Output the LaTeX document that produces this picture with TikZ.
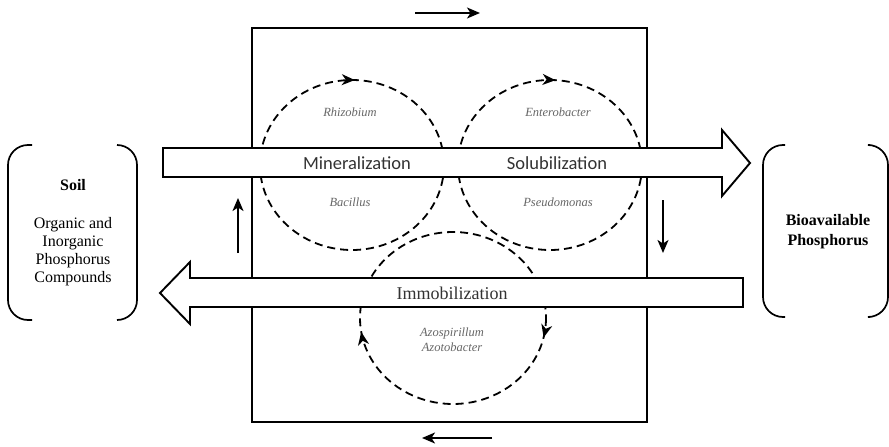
\documentclass[tikz,border=0pt]{standalone}
\usepackage{fontspec}
\setmainfont{Liberation Serif}
\newfontfamily\procfont{Carlito}
\usetikzlibrary{arrows.meta,decorations.markings}

\tikzset{
  ring/.style 2 args={line width=1.8pt,dash pattern=on 8pt off 5pt,
    postaction={decorate,decoration={markings,
      mark=at position #1 with {\arrow{Stealth[length=13pt,width=11pt,inset=4pt]}},
      mark=at position #2 with {\arrow{Stealth[length=13pt,width=11pt,inset=4pt]}}}}},
  bigarrow/.style={draw,line width=1.9pt,fill=white,line join=miter},
  sidearrow/.style={line width=1.8pt,-{Stealth[length=13pt,width=11pt,inset=3.5pt]}},
  bracket/.style={line width=1.7pt,rounded corners=20pt}
}

\begin{document}
\begin{tikzpicture}[x=1pt,y=-1pt]
  \useasboundingbox (0,0) rectangle (889,447);

  \draw[line width=1.9pt] (252,28) rectangle (647,422);

  \draw[ring={0.755}{0.26}] (352,165) ellipse [x radius=92, y radius=85];
  \draw[ring={0.76}{0.235}] (550,165) ellipse [x radius=92, y radius=85];
  \draw[ring={0.035}{0.475}] (453,318) ellipse [x radius=93, y radius=86];

  \draw[bigarrow] (163,148) -- (722,148) -- (722,130) -- (750,163)
    -- (722,196) -- (722,177) -- (163,177) -- cycle;
  \draw[bigarrow] (743,278) -- (190,278) -- (190,262) -- (160,293)
    -- (190,324) -- (190,307) -- (743,307) -- cycle;

  \begin{scope}[every node/.style={font=\procfont\fontsize{18.5}{20}\selectfont,text=black!80}]
    \node (mineral) at (357,163) {Mineralization};
    \node (solub)   at (557,163) {Solubilization};
  \end{scope}
  \node[font=\rmfamily\fontsize{18}{20}\selectfont,text=black!80] (immob) at (452,293) {Immobilization};

  \begin{scope}[every node/.style={font=\rmfamily\itshape\fontsize{12.5}{15}\selectfont,text=black!60}]
    \node (rhizo)  at (350,112) {Rhizobium};
    \node (bacil)  at (350,202) {Bacillus};
    \node (entero) at (558,112) {Enterobacter};
    \node (pseudo) at (558,202) {Pseudomonas};
    \node[align=center] (azo) at (452,340) {Azospirillum\\Azotobacter};
  \end{scope}

  \begin{scope}[every node/.style={align=center,font=\rmfamily\fontsize{16}{18}\selectfont}]
    \node[font=\rmfamily\bfseries\fontsize{16}{18}\selectfont] (soil) at (73,185) {Soil};
    \node (compounds) at (73,252) {Organic and\\Inorganic\\Phosphorus\\Compounds};
    \node[font=\rmfamily\bfseries\fontsize{16}{20}\selectfont] (bioavail) at (828,232) {Bioavailable\\Phosphorus};
  \end{scope}

  \draw[bracket] (32,145) -- (8,145) -- (8,320) -- (32,320);
  \draw[bracket] (117,145) -- (137,145) -- (137,320) -- (117,320);
  \draw[bracket] (785,145) -- (763,145) -- (763,317) -- (785,317);
  \draw[bracket] (870,145) -- (888,145) -- (888,317) -- (870,317);

  \coordinate (top1) at (415,13);
  \coordinate (top2) at (480,13);
  \coordinate (bot1) at (492,438);
  \coordinate (bot2) at (422,438);
  \coordinate (right1) at (663,200);
  \coordinate (right2) at (663,253);
  \coordinate (left1) at (238,253);
  \coordinate (left2) at (238,198);
  \draw[sidearrow] (top1) -- (top2);
  \draw[sidearrow] (bot1) -- (bot2);
  \draw[sidearrow] (right1) -- (right2);
  \draw[sidearrow] (left1) -- (left2);
\end{tikzpicture}
\end{document}
